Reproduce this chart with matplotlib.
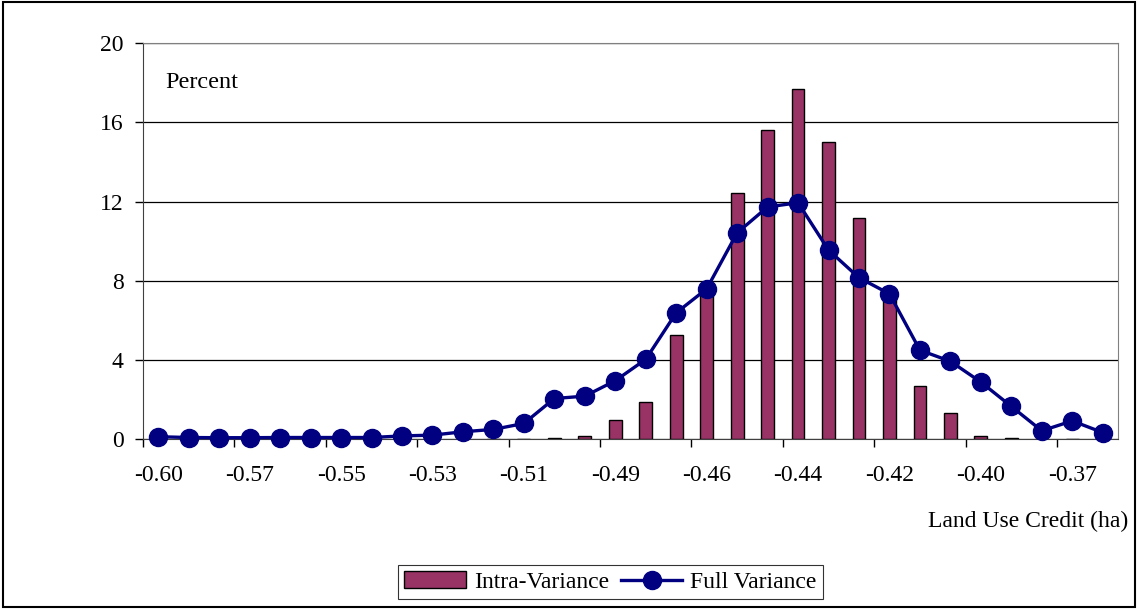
import numpy as np
import matplotlib.pyplot as plt
from matplotlib.patches import Rectangle

# 32 classes of land use credit; labels shown on every 3rd class
tick_labels = ["-0.60", "-0.57", "-0.55", "-0.53", "-0.51", "-0.49",
               "-0.46", "-0.44", "-0.42", "-0.40", "-0.37"]
intra = [0, 0, 0, 0, 0, 0, 0, 0, 0, 0, 0, 0, 0, 0.08, 0.17, 0.98,
         1.86, 5.26, 7.4, 12.45, 15.6, 17.7, 15.03, 11.15, 7.25, 2.66,
         1.3, 0.17, 0.08, 0, 0, 0]
full = [0.12, 0.08, 0.07, 0.07, 0.08, 0.08, 0.08, 0.08, 0.16, 0.2, 0.37,
        0.49, 0.79, 2.05, 2.17, 2.95, 4.03, 6.38, 7.59, 10.42, 11.73,
        11.94, 9.55, 8.15, 7.34, 4.49, 3.93, 2.88, 1.65, 0.42, 0.92, 0.33]

plt.rcParams["font.family"] = ["Liberation Serif", "DejaVu Serif"]
fs = 17

fig = plt.figure(figsize=(11.38, 6.09), dpi=100)
ax = fig.add_axes([0.1257, 0.279, 0.8567, 0.650])
x = np.arange(len(full))

bars = ax.bar(x, intra, width=0.42, color="#993366", edgecolor="black", lw=1,
              label="Intra-Variance", zorder=2)
line, = ax.plot(x, full, "-o", color="#000080", lw=2.4, ms=13,
                label="Full Variance", zorder=3, clip_on=False)

ax.set_xlim(-0.5, len(full) - 0.5)
ax.set_ylim(0, 20)
ax.set_yticks(range(0, 21, 4))
ax.yaxis.grid(True, color="black", lw=0.9)
ax.set_axisbelow(True)
ax.tick_params(axis="y", labelsize=fs, direction="out", length=6, width=1,
               pad=8)

ax.set_xticks(np.arange(-0.5, 30, 3))
ax.set_xticklabels([])
ax.set_xticks(np.arange(0, 31, 3), minor=True)
ax.set_xticklabels(tick_labels, minor=True)
ax.tick_params(axis="x", which="major", direction="out", length=6, width=1)
ax.tick_params(axis="x", which="minor", length=0, labelsize=fs, pad=19)

for s in ["top", "right"]:
    ax.spines[s].set_color("#808080")
ax.spines["left"].set_color("#404040")
ax.spines["bottom"].set_color("#404040")

ax.text(0.0226, 0.90, "Percent", transform=ax.transAxes, fontsize=fs + 0.5,
        va="center", ha="left")
fig.text(0.991, 0.1445, "Land Use Credit (ha)", fontsize=fs, ha="right",
         va="center")

leg = fig.legend([bars, line], ["Intra-Variance", "Full Variance"],
                 loc="center", bbox_to_anchor=(0.5365, 0.0443), ncol=2,
                 fontsize=fs, frameon=True, fancybox=False, edgecolor="black",
                 handlelength=2.6, handleheight=0.7, columnspacing=0.5,
                 handletextpad=0.35, borderpad=0.25, borderaxespad=0)
leg.get_frame().set_linewidth(0.8)

fig.patches.append(Rectangle((0.003, 0.004), 0.994, 0.992,
                             transform=fig.transFigure, fill=False,
                             edgecolor="black", lw=1.5))

fig.savefig("out.png", dpi=100)
